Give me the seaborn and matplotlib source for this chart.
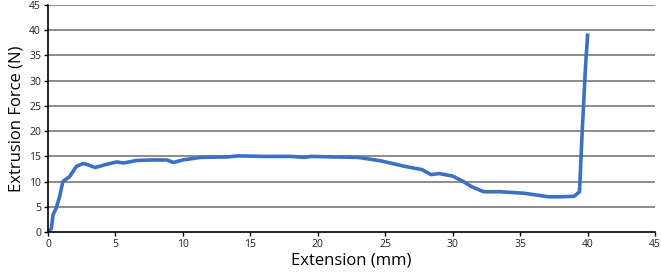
import matplotlib
matplotlib.use('Agg')
import matplotlib.pyplot as plt
import numpy as np
import pandas as pd
import seaborn as sns

extension = [0.0, 0.25, 0.37, 0.6, 0.86, 1.1, 1.6, 2.1, 2.6, 3.0, 3.5, 4.3, 5.1, 5.6, 6.6,
             7.8, 8.8, 9.3, 10.0, 11.3, 13.3, 14.1, 16.0, 18.0, 19.0, 19.5, 21.0, 23.0,
             24.7, 26.5, 27.7, 28.4, 29.0, 30.0, 30.8, 31.4, 32.3, 33.5, 35.3, 37.1,
             38.0, 39.0, 39.4, 39.6, 39.85, 40.0]
force = [0.0, 0.7, 3.4, 4.7, 7.0, 10.0, 11.0, 13.0, 13.6, 13.3, 12.8, 13.4, 13.9, 13.7, 14.2,
         14.3, 14.3, 13.8, 14.3, 14.8, 14.9, 15.1, 15.0, 15.0, 14.8, 15.0, 14.9, 14.8,
         14.1, 13.0, 12.4, 11.4, 11.6, 11.1, 10.0, 9.0, 8.0, 8.0, 7.7, 7.0,
         7.0, 7.1, 8.0, 20.0, 33.0, 39.0]

df = pd.DataFrame({'Extension (mm)': extension, 'Extrusion Force (N)': force})

plt.rcParams['font.family'] = ['Open Sans', 'DejaVu Sans']

fig = plt.figure(figsize=(6.61, 2.76), dpi=100)
ax = fig.add_axes([0.0726, 0.159, 0.9184, 0.823])

for y in range(5, 50, 5):
    ax.axhline(y, color='#8c8c8c', lw=1.4, zorder=0)

sns.lineplot(data=df, x='Extension (mm)', y='Extrusion Force (N)', sort=False,
             color='#3b70c2', lw=2.6, ax=ax, zorder=3)

ax.set_xlim(0, 45)
ax.set_ylim(0, 45)
ax.set_xticks(range(0, 50, 5))
ax.set_yticks(range(0, 50, 5))
ax.tick_params(labelsize=7.5, length=3, width=1, pad=2, labelcolor='#222222')
ax.set_xlabel('Extension (mm)', fontsize=12, labelpad=2)
ax.set_ylabel('Extrusion Force (N)', fontsize=12, labelpad=3)
for s in ['top', 'right']:
    ax.spines[s].set_visible(False)
for s in ['left', 'bottom']:
    ax.spines[s].set_linewidth(1.2)
    ax.spines[s].set_zorder(4)

fig.savefig('out.png', dpi=100)
